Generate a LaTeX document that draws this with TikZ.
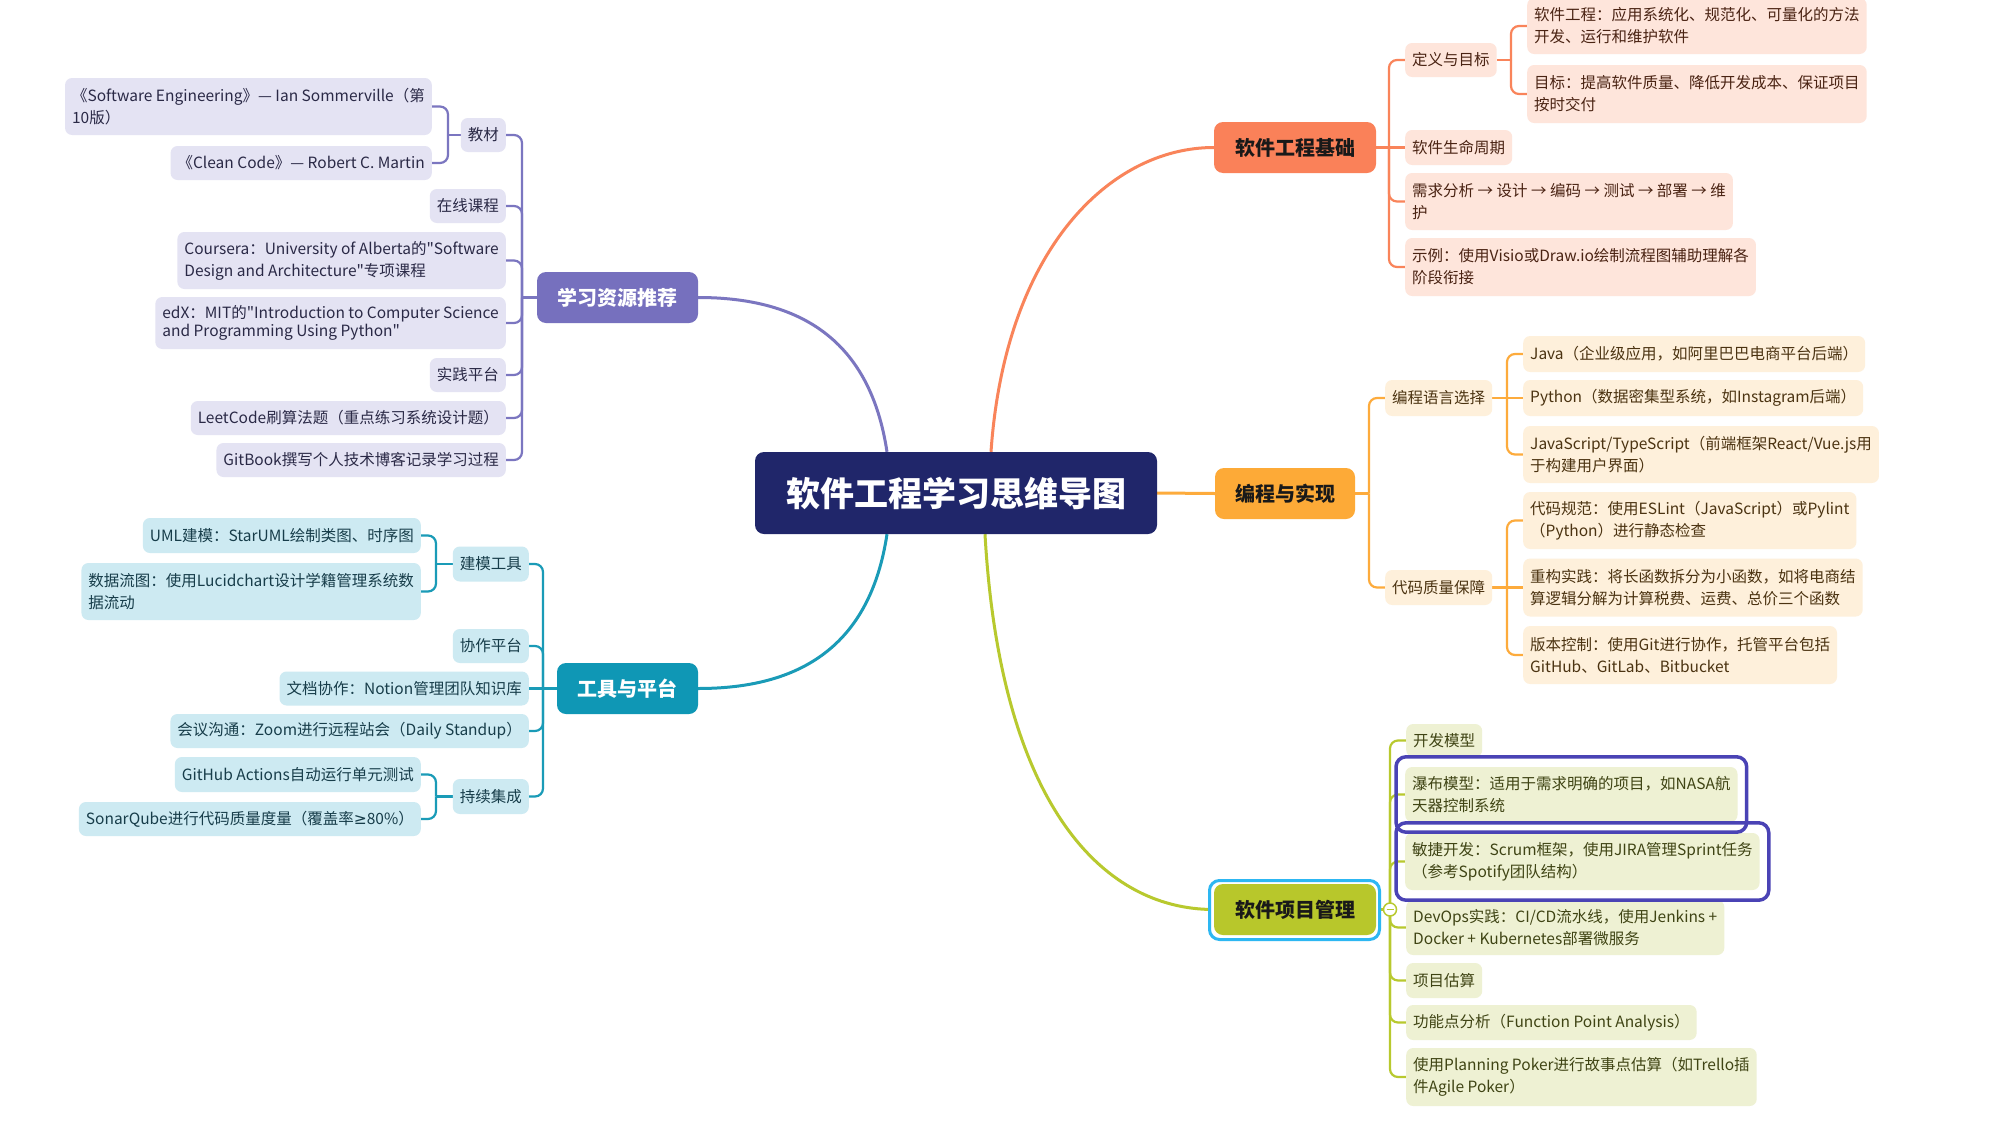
\documentclass[tikz,border=0pt]{standalone}
\usepackage{fontspec}
\setmainfont{Noto Sans CJK SC}[Ligatures=TeXOff]
\newfontfamily\mmsym{DejaVu Sans}
\usetikzlibrary{fit}
\definecolor{colCen}{HTML}{20266A}
\definecolor{colPm}{HTML}{7670BE}\definecolor{colPl}{HTML}{7B76C0}\definecolor{colPf}{HTML}{E4E3F3}\definecolor{colPt}{HTML}{2A2946}
\definecolor{colTm}{HTML}{0F97B5}\definecolor{colTl}{HTML}{1A9BB7}\definecolor{colTf}{HTML}{CDEAF2}\definecolor{colTt}{HTML}{173D4A}
\definecolor{colOm}{HTML}{FA8159}\definecolor{colOl}{HTML}{F9845A}\definecolor{colOf}{HTML}{FEE5DB}\definecolor{colOt}{HTML}{4A2313}
\definecolor{colAm}{HTML}{FDAA37}\definecolor{colAl}{HTML}{FDAB3C}\definecolor{colAf}{HTML}{FEF0DB}\definecolor{colAt}{HTML}{4B3311}
\definecolor{colGm}{HTML}{B8C72B}\definecolor{colGl}{HTML}{B8C92E}\definecolor{colGf}{HTML}{EEF1D3}\definecolor{colGt}{HTML}{3F4414}
\definecolor{colGo}{HTML}{2DB7F2}
\definecolor{colHL}{HTML}{4A43B5}
\pgfdeclarelayer{bg}
\pgfsetlayers{bg,main}
\tikzset{
  leaf/.style={rounded corners=7pt, inner xsep=7pt, inner ysep=1pt, font=\fontsize{15.5}{22}\selectfont, align=left},
  lfP/.style={leaf, anchor=east, fill=colPf, text=colPt},
  lfT/.style={leaf, anchor=east, fill=colTf, text=colTt},
  lfO/.style={leaf, anchor=west, fill=colOf, text=colOt},
  lfA/.style={leaf, anchor=west, fill=colAf, text=colAt},
  lfG/.style={leaf, anchor=west, fill=colGf, text=colGt},
  topic/.style={rounded corners=9pt, inner sep=0pt, minimum height=51pt, font=\fontsize{20}{24}\selectfont\bfseries},
  conn/.style={line width=2.2pt, rounded corners=8pt},
  lnP/.style={conn, draw=colPl},
  lnT/.style={conn, draw=colTl},
  lnO/.style={conn, draw=colOl},
  lnA/.style={conn, draw=colAl},
  lnG/.style={conn, draw=colGl},
  mainline/.style={line width=3pt},
  hlbox/.style={draw=colHL, line width=3.5pt, rounded corners=10pt, inner xsep=9pt, inner ysep=10pt},
}
\newcommand\mmleaf[6]{\node[#2, minimum height=#5pt] (#1) at (#3,#4) {#6};}
\begin{document}
\begin{tikzpicture}[x=1pt,y=-1pt]
\useasboundingbox (0,0) rectangle (1990,1122);

% central
\node[fill=colCen, rounded corners=9pt, minimum width=402pt, minimum height=82pt, inner sep=0pt, text=white, font=\fontsize{34}{40}\selectfont\bfseries] (cen) at (956,493) {软件工程学习思维导图};

% main topics
\node[topic, fill=colPm, text=white, minimum width=161pt] (P) at (617.5,297.5) {学习资源推荐};
\node[topic, fill=colTm, text=white, minimum width=141pt] (T) at (627.5,688.5) {工具与平台};
\node[topic, fill=colOm, text=black!90, minimum width=162pt] (O) at (1295,147.5) {软件工程基础};
\node[topic, fill=colAm, text=black!90, minimum width=140pt] (A) at (1285,493.5) {编程与实现};
\node[draw=colGo, line width=3pt, fill=white, rounded corners=10pt, minimum width=170pt, minimum height=59pt, inner sep=0pt] (Gsel) at (1294.5,910) {};
\node[topic, fill=colGm, text=black!90, minimum width=162pt] (G) at (1295,909.5) {软件项目管理};

% purple leaves (anchored at right edge)
\mmleaf{jc}{lfP}{506}{135}{34}{教材}
\mmleaf{se}{lfP}{432}{106.5}{57}{《Software Engineering》— Ian Sommerville（第\\10版）}
\mmleaf{cc}{lfP}{432}{163}{34}{《Clean Code》— Robert C. Martin}
\mmleaf{zx}{lfP}{506}{206}{34}{在线课程}
\mmleaf{cs}{lfP}{506}{260.5}{57}{Coursera：University of Alberta的"Software\\Design and Architecture"专项课程}
\mmleaf{ed}{lfP}{506}{323}{52}{edX：MIT的"Introduction to Computer Science\\[-4pt]and Programming Using Python"}
\mmleaf{sj}{lfP}{506}{375}{34}{实践平台}
\mmleaf{lc}{lfP}{506}{418}{34}{LeetCode刷算法题（重点练习系统设计题）}
\mmleaf{gb}{lfP}{506}{460}{34}{GitBook撰写个人技术博客记录学习过程}

% teal leaves (anchored at right edge)
\mmleaf{jm}{lfT}{529}{564}{35}{建模工具}
\mmleaf{uml}{lfT}{421}{535.5}{35}{UML建模：StarUML绘制类图、时序图}
\mmleaf{dfd}{lfT}{421}{591.5}{57}{数据流图：使用Lucidchart设计学籍管理系统数\\据流动}
\mmleaf{xz}{lfT}{529}{646}{34}{协作平台}
\mmleaf{wd}{lfT}{529}{688.5}{34}{文档协作：Notion管理团队知识库}
\mmleaf{hy}{lfT}{529}{731}{34}{会议沟通：Zoom进行远程站会（Daily Standup）}
\mmleaf{cx}{lfT}{529}{796.5}{35}{持续集成}
\mmleaf{gh}{lfT}{421}{774.5}{35}{GitHub Actions自动运行单元测试}
\mmleaf{sq}{lfT}{421}{819}{34}{SonarQube进行代码质量度量（覆盖率{\mmsym ≥}80\%）}

% coral leaves
\mmleaf{dy}{lfO}{1405}{60}{34}{定义与目标}
\mmleaf{rj}{lfO}{1527}{26}{56}{软件工程：应用系统化、规范化、可量化的方法\\开发、运行和维护软件}
\mmleaf{mb}{lfO}{1527}{94}{58}{目标：提高软件质量、降低开发成本、保证项目\\按时交付}
\mmleaf{sm}{lfO}{1405}{147.5}{35}{软件生命周期}
\mmleaf{xq}{lfO}{1405}{201.5}{57}{需求分析 → 设计 → 编码 → 测试 → 部署 → 维\\护}
\mmleaf{sl}{lfO}{1405}{267}{58}{示例：使用Visio或Draw.io绘制流程图辅助理解各\\阶段衔接}

% amber leaves
\mmleaf{yy}{lfA}{1385}{398}{36}{编程语言选择}
\mmleaf{java}{lfA}{1523}{354}{36}{Java（企业级应用，如阿里巴巴电商平台后端）}
\mmleaf{py}{lfA}{1523}{398}{36}{Python（数据密集型系统，如Instagram后端）}
\mmleaf{js}{lfA}{1523}{454.5}{57}{JavaScript/TypeScript（前端框架React/Vue.js用\\于构建用户界面）}
\mmleaf{zl}{lfA}{1385}{587.5}{35}{代码质量保障}
\mmleaf{gf}{lfA}{1523}{520.5}{57}{代码规范：使用ESLint（JavaScript）或Pylint\\（Python）进行静态检查}
\mmleaf{cg}{lfA}{1523}{587.5}{58}{重构实践：将长函数拆分为小函数，如将电商结\\算逻辑分解为计算税费、运费、总价三个函数}
\mmleaf{bb}{lfA}{1523}{655}{58}{版本控制：使用Git进行协作，托管平台包括\\GitHub、GitLab、Bitbucket}

% green leaves
\mmleaf{kf}{lfG}{1406}{740.5}{33}{开发模型}
\mmleaf{pb}{lfG}{1405}{794.5}{55}{瀑布模型：适用于需求明确的项目，如NASA航\\天器控制系统}
\mmleaf{mj}{lfG}{1405}{861.5}{57}{敏捷开发：Scrum框架，使用JIRA管理Sprint任务\\（参考Spotify团队结构）}
\mmleaf{dv}{lfG}{1406}{927.5}{55}{DevOps实践：CI/CD流水线，使用Jenkins +\\Docker + Kubernetes部署微服务}
\mmleaf{gs}{lfG}{1406}{980.5}{35}{项目估算}
\mmleaf{gn}{lfG}{1406}{1022.5}{35}{功能点分析（Function Point Analysis）}
\mmleaf{pp}{lfG}{1406}{1077}{58}{使用Planning Poker进行故事点估算（如Trello插\\件Agile Poker）}

% highlight frames
\node[hlbox, fit=(pb)] (hl1) {};
\node[hlbox, fit=(mj)] (hl2) {};

% bar junction coordinates
\coordinate (Pb) at (522,297.5);
\coordinate (jcb) at (448,135);
\coordinate (Tb) at (543,688.5);
\coordinate (jmb) at (436,564);
\coordinate (cxb) at (436,796.5);
\coordinate (Ob) at (1389,147.5);
\coordinate (dyb) at (1511,60);
\coordinate (Ab) at (1369,493.5);
\coordinate (yyb) at (1507,398);
\coordinate (zlb) at (1507,587.5);
\coordinate (Gb) at (1390,909.5);

% collapse marker
\node[circle, draw=colGl, fill=white, line width=1.5pt, minimum size=13pt, inner sep=0pt] (Gc) at (Gb) {};
\draw[colGl, line width=1.3pt] ([xshift=-3.5pt]Gc.center) -- ([xshift=3.5pt]Gc.center);

\begin{pgfonlayer}{bg}
\fill[white] (0,0) rectangle (1990,1122);
% main curves
\draw[mainline, colPl] ([xshift=-69pt]cen.north) .. controls +(-17,-112) and +(102,0) .. (P.east);
\draw[mainline, colOl] ([xshift=35pt]cen.north) .. controls +(14,-202) and +(-104,0) .. (O.west);
\draw[mainline, colAl] (cen.east) -- (A.west);
\draw[mainline, colTl] ([xshift=-69pt]cen.south) .. controls +(-17,112) and +(102,0) .. (T.east);
\draw[mainline, colGl] ([xshift=29pt]cen.south) .. controls +(15,266) and +(-114,0) .. (G.west);

% purple
\draw[lnP] (P.west) -- (Pb);
\foreach \c in {jc,zx,cs,ed,sj,lc,gb} \draw[lnP] (Pb) |- (\c.east);
\draw[lnP] (jc.west) -- (jcb);
\foreach \c in {se,cc} \draw[lnP] (jcb) |- (\c.east);
% teal
\draw[lnT] (T.west) -- (Tb);
\foreach \c in {jm,xz,hy,cx} \draw[lnT] (Tb) |- (\c.east);
\draw[lnT] (Tb) -- (wd.east);
\draw[lnT] (jm.west) -- (jmb);
\foreach \c in {uml,dfd} \draw[lnT] (jmb) |- (\c.east);
\draw[lnT] (cx.west) -- (cxb);
\foreach \c in {gh,sq} \draw[lnT] (cxb) |- (\c.east);
% coral
\draw[lnO] (O.east) -- (Ob);
\foreach \c in {dy,xq,sl} \draw[lnO] (Ob) |- (\c.west);
\draw[lnO] (Ob) -- (sm.west);
\draw[lnO] (dy.east) -- (dyb);
\foreach \c in {rj,mb} \draw[lnO] (dyb) |- (\c.west);
% amber
\draw[lnA] (A.east) -- (Ab);
\foreach \c in {yy,zl} \draw[lnA] (Ab) |- (\c.west);
\draw[lnA] (yy.east) -- (yyb);
\foreach \c in {java,js} \draw[lnA] (yyb) |- (\c.west);
\draw[lnA] (yyb) -- (py.west);
\draw[lnA] (zl.east) -- (zlb);
\foreach \c in {gf,bb} \draw[lnA] (zlb) |- (\c.west);
\draw[lnA] (zlb) -- (cg.west);
% green
\draw[lnG] (G.east) -- (Gb);
\foreach \c in {kf,pb,mj,dv,gs,gn,pp} \draw[lnG] (Gb) |- (\c.west);
\end{pgfonlayer}
\end{tikzpicture}
\end{document}
